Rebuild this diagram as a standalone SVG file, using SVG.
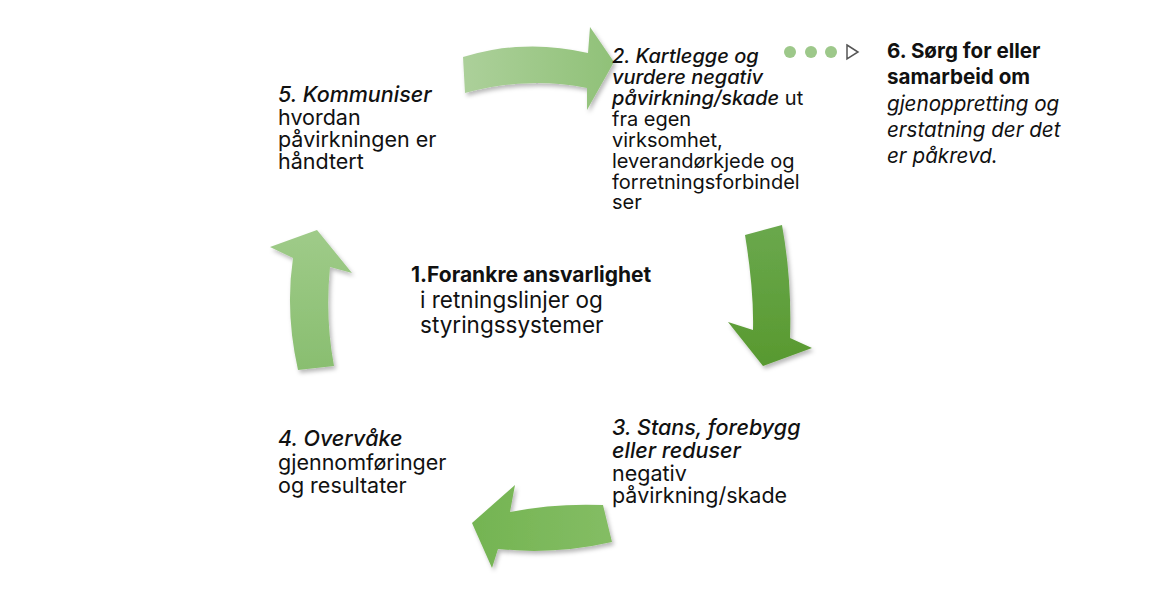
<svg xmlns="http://www.w3.org/2000/svg" width="1175" height="601" viewBox="0 0 1175 601">
<style>
  text { font-family: Inter, "Noto Sans", "Liberation Sans", sans-serif; font-size: 20px; fill: #111; }
  .b { font-weight: bold; }
  .i { font-style: italic; }
  .im { font-style: italic; font-weight: 500; }
  #node1 text { font-size: 22.5px; }
  #node1 text.b { font-size: 21px; }
  #node3 text, #node4 text, #node5 text { font-size: 21.5px; }
  #node6 text { font-size: 20.6px; }
  .arrow { filter: url(#sh); }
</style>
<defs>
  <filter id="sh" x="-20%" y="-20%" width="140%" height="140%">
    <feDropShadow dx="2" dy="3" stdDeviation="2" flood-color="#000" flood-opacity="0.28"/>
  </filter>
  <linearGradient id="gTop" x1="0" y1="0" x2="1" y2="0">
    <stop offset="0" stop-color="#acd09a"/>
    <stop offset="1" stop-color="#90c178"/>
  </linearGradient>
  <linearGradient id="gRight" x1="0" y1="0" x2="0" y2="1">
    <stop offset="0" stop-color="#6aa84d"/>
    <stop offset="1" stop-color="#58992f"/>
  </linearGradient>
  <linearGradient id="gBottom" x1="1" y1="0" x2="0" y2="0">
    <stop offset="0" stop-color="#84bd64"/>
    <stop offset="1" stop-color="#74b452"/>
  </linearGradient>
  <linearGradient id="gLeft" x1="0" y1="1" x2="0" y2="0">
    <stop offset="0" stop-color="#89be70"/>
    <stop offset="1" stop-color="#9fcb89"/>
  </linearGradient>
</defs>
<rect width="1175" height="601" fill="#fff"/>

<g id="connectors">
  <path class="arrow" fill="url(#gTop)" d="M463,57 Q525,38 588,53 L590,27 L614,62 L587,110 L587,88 Q527,76 465,93 Z"/>
  <path class="arrow" fill="url(#gRight)" d="M745,235 Q754,290 753,330 L728,322 L763,366 L812,348 L790,338 Q792,280 782,225 Z"/>
  <path class="arrow" fill="url(#gBottom)" d="M603,505 Q555,503 510,512 L515,485 L472,523 L492,568 L498,549 Q555,555 612,542 Z"/>
  <path class="arrow" fill="url(#gLeft)" d="M317,230 L352,273 L330,267 Q325,318 334,366 L298,370 Q285,312 293,258 L270,247 Z"/>
</g>

<g id="node1">
  <text x="411" y="282" class="b">1.Forankre ansvarlighet</text>
  <text x="420" y="308">i retningslinjer og</text>
  <text x="420" y="333">styringssystemer</text>
</g>

<g id="node2">
  <text x="612" y="63" class="im">2. Kartlegge og</text>
  <text x="612" y="84" class="im">vurdere negativ</text>
  <text x="612" y="105"><tspan class="im">påvirkning/skade</tspan> ut</text>
  <text x="612" y="126">fra egen</text>
  <text x="612" y="147">virksomhet,</text>
  <text x="612" y="168">leverandørkjede og</text>
  <text x="612" y="189">forretningsforbindel</text>
  <text x="612" y="209">ser</text>
</g>

<g id="node3">
  <text x="612" y="435" class="im">3. Stans, forebygg</text>
  <text x="612" y="458" class="im">eller reduser</text>
  <text x="612" y="481">negativ</text>
  <text x="612" y="503">påvirkning/skade</text>
</g>

<g id="node4">
  <text x="278" y="446" class="im">4. Overvåke</text>
  <text x="278" y="470">gjennomføringer</text>
  <text x="278" y="493">og resultater</text>
</g>

<g id="node5">
  <text x="278" y="102" class="im">5. Kommuniser</text>
  <text x="278" y="125">hvordan</text>
  <text x="278" y="147">påvirkningen er</text>
  <text x="278" y="169">håndtert</text>
</g>

<g id="node6">
  <circle cx="790" cy="52" r="6" fill="#9dc88a"/>
  <circle cx="811" cy="52" r="6" fill="#9dc88a"/>
  <circle cx="831" cy="52" r="6" fill="#9dc88a"/>
  <polygon points="847,45 858,52 847,59" fill="none" stroke="#555" stroke-width="1.5"/>
  <text x="887" y="58" class="b">6. Sørg for eller</text>
  <text x="887" y="84" class="b">samarbeid om</text>
  <text x="887" y="111" class="i">gjenoppretting og</text>
  <text x="887" y="137" class="i">erstatning der det</text>
  <text x="887" y="163" class="i">er påkrevd.</text>
</g>
</svg>
